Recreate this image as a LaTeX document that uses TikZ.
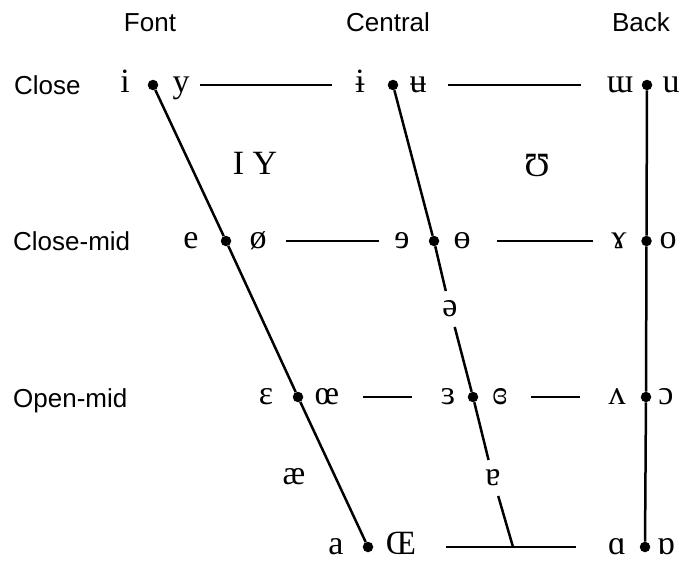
\documentclass[tikz,border=0pt]{standalone}
\usepackage{fontspec}
\setmainfont{Liberation Serif}
\setsansfont{Liberation Sans}
\usetikzlibrary{positioning}

\begin{document}
\begin{tikzpicture}[x=1pt,y=-1pt,
  dot/.style={circle,fill=black,inner sep=0pt,minimum size=10.5pt},
  ipa/.style={inner sep=0pt,text height=15.6pt,text depth=0pt,
              font=\fontsize{34}{34}\selectfont},
  gap/.style={ipa,inner sep=10pt},
  lbl/.style={inner sep=0pt,text height=18.6pt,text depth=0pt,
              font=\sffamily\fontsize{26}{26}\selectfont},
  side/.style={line width=2.5pt},
  rung/.style 2 args={line width=2.5pt,shorten <=#1,shorten >=#2}
]
  \useasboundingbox (0,0) rectangle (681,562);

  % headings and row labels
  \node[lbl] (hfront) at (150,22) {Font};
  \node[lbl] (hcentral) at (388,22) {Central};
  \node[lbl] (hback) at (641,22) {Back};
  \node[lbl,anchor=west] (rclose) at (14,85) {Close};
  \node[lbl,anchor=west] (rclosemid) at (13,241) {Close-mid};
  \node[lbl,anchor=west] (ropenmid) at (13,398) {Open-mid};

  % dots on the three edges
  \node[dot] (fc) at (153,85) {};
  \node[dot] (fcm) at (226,241) {};
  \node[dot] (fom) at (298,397) {};
  \node[dot] (fo) at (368,547) {};
  \node[dot] (cc) at (393,85) {};
  \node[dot] (ccm) at (434,241) {};
  \node[dot] (com) at (473,397) {};
  \node[dot] (bc) at (647,85) {};
  \node[dot] (bcm) at (646.5,241) {};
  \node[dot] (bom) at (646,397) {};
  \node[dot] (bo) at (645,547) {};
  \coordinate (cbot) at (513,547);

  % close
  \node[ipa] (vi) at (125,85) {i};
  \node[ipa] (vy) at (181,85) {y};
  \node[ipa] (vbi) at (360,85) {ɨ};
  \node[ipa] (vbu) at (418,85) {ʉ};
  \node[ipa] (vmu) at (620,85) {ɯ};
  \node[ipa] (vu) at (671,85) {u};
  % close-mid
  \node[ipa] (ve) at (191,241) {e};
  \node[ipa] (voe) at (258,241) {ø};
  \node[ipa] (vre) at (402,241) {ɘ};
  \node[ipa] (vbo) at (462,241) {ɵ};
  \node[ipa] (vram) at (619,241) {ɤ};
  \node[ipa] (vo) at (668,241) {o};
  % open-mid
  \node[ipa] (veps) at (266,397) {ɛ};
  \node[ipa] (voel) at (327,397) {œ};
  \node[ipa] (vrep) at (448,397) {ɜ};
  \node[ipa] (vcre) at (500,397) {ɞ};
  \node[ipa] (vwed) at (617,397) {ʌ};
  \node[ipa] (vopo) at (666,397) {ɔ};
  % open
  \node[ipa] (va) at (336,547) {a};
  \node[ipa] (voec) at (401,547) {Œ};
  \node[ipa] (vscripta) at (617,547) {ɑ};
  \node[ipa] (vturna) at (666,547) {ɒ};
  % in between
  \node[ipa] (vsmall) at (255,167) {I Y};
  \node[ipa] (vhorse) at (537,169) {Ʊ};
  \node[ipa] (vae) at (294,477) {æ};
  \node[gap] (vschwa) at (450,309) {ə};
  \node[gap] (vtur) at (493,478) {ɐ};

  \draw[side] (fc)--(fcm)--(fom)--(fo);
  \draw[side] (cc)--(ccm)--(vschwa);
  \draw[side] (vschwa)--(com)--(vtur);
  \draw[side] (vtur)--(cbot);
  \draw[side] (bc)--(bcm)--(bom)--(bo);

  \draw[rung={10.5pt}{23pt}] (vy)--(vbi);
  \draw[rung={21.5pt}{26pt}] (vbu)--(vmu);
  \draw[rung={19.5pt}{15.5pt}] (voe)--(vre);
  \draw[rung={26.5pt}{18.5pt}] (vbo)--(vram);
  \draw[rung={24pt}{28.5pt}] (voel)--(vrep);
  \draw[rung={23.5pt}{28.5pt}] (vcre)--(vwed);
  \draw[rung={30pt}{31.5pt}] (voec)--(vscripta);
\end{tikzpicture}
\end{document}
